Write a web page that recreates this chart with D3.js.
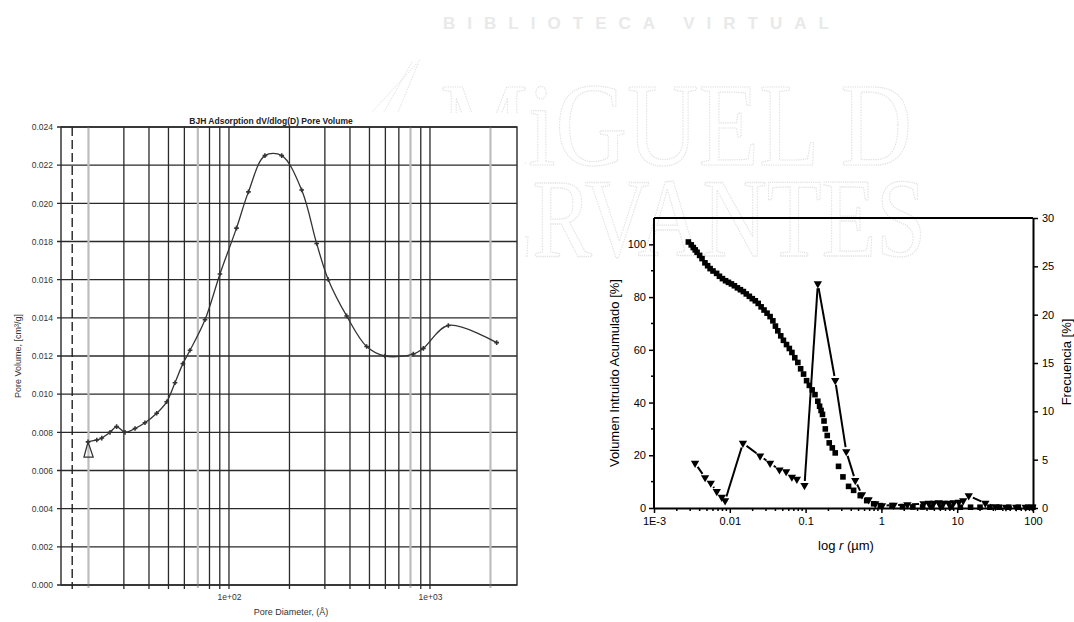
<!DOCTYPE html>
<html>
<head>
<meta charset="utf-8">
<script src="https://cdn.jsdelivr.net/npm/d3@7"></script>
<style>
  body { margin: 0; background: #fff; }
  svg { display: block; font-family: "Liberation Sans", Arial, sans-serif; }
</style>
</head>
<body>
<svg width="1074" height="622"></svg>
<script>
// ---- left chart: BJH adsorption dV/dlog(D) ----
const bjhStartD = [19.9, 19.0, 21.1, 19.9];
const bjhStartV = [0.0075, 0.0067, 0.0067, 0.0075];
const bjhD = [19.9, 22.0, 23.3, 25.6, 27.6, 30.4, 34.1, 38.2, 43.7, 49.0, 53.9, 59.0, 64.0, 76.0, 90.2,
  109, 125, 151, 183, 230, 273, 312, 385, 484, 597, 826, 927, 1234, 2147];
const bjhV = [0.0075, 0.0076, 0.0077, 0.0080, 0.0083, 0.0080, 0.0082, 0.0085, 0.0090, 0.0096, 0.0106,
  0.0116, 0.0123, 0.0139, 0.0163, 0.0187, 0.0206, 0.0225, 0.0225, 0.0207, 0.0179, 0.0160, 0.0141,
  0.0125, 0.0120, 0.0121, 0.0124, 0.0136, 0.0127];
const bjhYTicks = [0, 0.002, 0.004, 0.006, 0.008, 0.010, 0.012, 0.014, 0.016, 0.018, 0.020, 0.022, 0.024];
const bjhGridDark = [30, 40, 50, 60, 80, 90, 100, 200, 300, 400, 500, 600, 700, 900, 1000];
const bjhGridLight = [20, 70, 800, 2000];
const bjhXLabels = [100, 1000];
const bjhCutoff = 16.6;

// ---- right chart: mercury intrusion ----
const cumR = [0.00284, 0.0031, 0.0033, 0.0035, 0.0037, 0.0040, 0.0043, 0.0047, 0.0051, 0.0055, 0.0060,
  0.0067, 0.0073, 0.0080, 0.0088, 0.0096, 0.0105, 0.0115, 0.0126, 0.0138, 0.0151, 0.0165, 0.0181,
  0.0198, 0.0217, 0.0237, 0.0259, 0.0283, 0.031, 0.034, 0.037, 0.040, 0.043, 0.047, 0.051, 0.056,
  0.061, 0.066, 0.072, 0.079, 0.086, 0.094, 0.103, 0.112, 0.122, 0.133, 0.145, 0.153, 0.160, 0.167,
  0.175, 0.182, 0.193, 0.205, 0.225, 0.246, 0.272, 0.311, 0.369, 0.43, 0.526, 0.64, 0.79, 0.97, 1.38,
  1.9, 2.6, 3.5, 4.6, 6.2, 8.3, 11, 15, 20, 27, 36, 48, 64, 85, 100];
const cumPct = [100.9, 99.8, 98.8, 97.9, 97.0, 95.8, 94.6, 93.0, 91.9, 90.8, 89.9, 89.0, 87.9, 87.0,
  86.2, 85.6, 85.0, 84.3, 83.5, 82.8, 82.1, 81.2, 80.3, 79.4, 78.6, 77.6, 76.3, 75.1, 73.9, 72.6, 71.0,
  69.0, 67.2, 65.3, 63.6, 62.0, 60.5, 59.0, 57.0, 55.2, 52.8, 50.8, 48.3, 46.5, 44.8, 43.0, 40.5, 38.6,
  37.0, 35.5, 33.0, 30.0, 27.5, 24.7, 22.8, 20.9, 15.8, 11.8, 8.2, 6.7, 4.7, 2.8, 1.6, 0.9, 0.9,
  0.5, 0.4, 0.4, 0.4, 0.4, 0.4, 0.3, 0.3, 0.3, 0.3, 0.3, 0.3, 0.3, 0.3, 0.3];
const freqR = [0.00348, 0.00472, 0.00561, 0.00673, 0.00783, 0.00867, 0.0149, 0.0251, 0.0340, 0.0452,
  0.0554, 0.0659, 0.0767, 0.0967, 0.145, 0.246, 0.344, 0.452, 0.554, 0.678, 0.830, 1.02, 1.45, 2.2,
  3.6, 4.2, 4.9, 5.7, 6.6, 7.7, 9.0, 10.5, 12.0, 14.2, 23.5, 32, 44, 60, 80, 98];
const freqPct = [4.64, 3.15, 2.58, 1.71, 1.13, 0.75, 6.7, 5.39, 4.64, 3.95, 3.77, 3.2, 2.99, 2.33,
  23.2, 13.2, 5.84, 2.85, 1.37, 0.86, 0.44, 0.24, 0.3, 0.35, 0.45, 0.5, 0.5, 0.55, 0.5, 0.5, 0.55,
  0.6, 0.75, 1.27, 0.5, 0.15, 0.1, 0.1, 0.1, 0.1];
const hgXTicks = [0.001, 0.01, 0.1, 1, 10, 100];
const hgXLabels = ["1E-3", "0.01", "0.1", "1", "10", "100"];
const hgLeftTicks = [0, 20, 40, 60, 80, 100];
const hgLeftMinor = [10, 30, 50, 70, 90];
const hgRightTicks = [0, 5, 10, 15, 20, 25, 30];

const svg = d3.select("svg");
svg.append("rect").attr("width", 1074).attr("height", 622).attr("fill", "#fff");

// faint library watermark behind everything
svg.append("text").attr("x", 443).attr("y", 29).attr("textLength", 386)
  .attr("lengthAdjust", "spacing").attr("font-size", 17).attr("font-weight", "bold")
  .attr("fill", "#e9e9e9").text("BIBLIOTECA VIRTUAL");
const wm = svg.append("g").attr("fill", "none").attr("stroke", "#e2e2e2")
  .attr("stroke-width", 1).attr("stroke-dasharray", "1.5,1.2")
  .attr("font-family", "Liberation Serif");
wm.append("path").attr("d", "M420,60 L372,112 M412,62 L384,112 M418,64 L398,112");
// squeeze the big letters horizontally to the width they take in the scan
function fitText(txt, x, y, width) {
  const w = txt.node().getComputedTextLength();
  txt.attr("transform", `translate(${x},${y}) scale(${width / w},1)`)
    .attr("stroke-width", w / width);
}
fitText(wm.append("text").attr("font-size", 118).text("MiGUEL D"), 440, 165, 472);
fitText(wm.append("text").attr("font-size", 112).text("CERVANTES"), 418, 256, 508);

// ================= LEFT CHART =================
const L = { x0: 61, x1: 517, y0: 127, y1: 585 };
const gl = svg.append("g");
gl.append("rect").attr("x", 0).attr("y", 113).attr("width", 525).attr("height", 509).attr("fill", "#fff");

const xL = d3.scaleLog().domain([14.6, 2710]).range([L.x0, L.x1]);
const yL = d3.scaleLinear().domain([0, 0.024]).range([L.y1, L.y0]);

// horizontal grid
gl.append("g").selectAll("line").data(bjhYTicks).join("line")
  .attr("x1", L.x0 - 4).attr("x2", L.x1)
  .attr("y1", d => yL(d)).attr("y2", d => yL(d))
  .attr("stroke", "#2a2a2a").attr("stroke-width", 1.3);
// vertical grid
gl.append("g").selectAll("line").data(bjhGridLight).join("line")
  .attr("x1", d => xL(d)).attr("x2", d => xL(d))
  .attr("y1", L.y0).attr("y2", L.y1 + 3)
  .attr("stroke", "#bdbdbd").attr("stroke-width", 2.2);
gl.append("g").selectAll("line").data(bjhGridDark).join("line")
  .attr("x1", d => xL(d)).attr("x2", d => xL(d))
  .attr("y1", L.y0).attr("y2", L.y1 + 4)
  .attr("stroke", "#2a2a2a").attr("stroke-width", 1.3);
// frame
gl.append("rect").attr("x", L.x0).attr("y", L.y0)
  .attr("width", L.x1 - L.x0).attr("height", L.y1 - L.y0)
  .attr("fill", "none").attr("stroke", "#2a2a2a").attr("stroke-width", 1.4);
// cutoff dashed line
gl.append("line").attr("x1", xL(bjhCutoff)).attr("x2", xL(bjhCutoff))
  .attr("y1", L.y0).attr("y2", L.y1 + 4)
  .attr("stroke", "#222").attr("stroke-width", 1.4).attr("stroke-dasharray", "9,4");

// axes labels via d3.axis
const axLy = gl.append("g").attr("transform", `translate(${L.x0 - 5},0)`)
  .call(d3.axisLeft(yL).tickValues(bjhYTicks).tickSize(0).tickPadding(3).tickFormat(d3.format(".3f")));
axLy.select(".domain").remove();
axLy.selectAll("text").attr("font-size", 8.5).attr("fill", "#333");

const axLx = gl.append("g").attr("transform", `translate(0,${L.y1 + 4})`)
  .call(d3.axisBottom(xL).tickValues(bjhXLabels).tickSize(0).tickPadding(5)
    .tickFormat(d => "1e+0" + Math.round(Math.log10(d))));
axLx.select(".domain").remove();
axLx.selectAll("text").attr("font-size", 8.5).attr("fill", "#333");

gl.append("text").attr("x", 271).attr("y", 124).attr("text-anchor", "middle")
  .attr("font-size", 8.5).attr("font-weight", "bold").attr("fill", "#222")
  .text("BJH Adsorption dV/dlog(D) Pore Volume");
gl.append("text").attr("x", 291).attr("y", 615).attr("text-anchor", "middle")
  .attr("font-size", 9).attr("fill", "#333")
  .text("Pore Diameter, (Å)");
gl.append("text").attr("transform", "translate(21,356) rotate(-90)").attr("text-anchor", "middle")
  .attr("font-size", 9).attr("fill", "#333")
  .text("Pore Volume, [cm³/g]");

// curve
const lineL = d3.line().x(d => xL(d[0])).y(d => yL(d[1]));
gl.append("path").datum(d3.zip(bjhStartD, bjhStartV))
  .attr("d", lineL).attr("fill", "none").attr("stroke", "#333").attr("stroke-width", 1.3);
const bjhPts = d3.zip(bjhD, bjhV);
gl.append("path").datum(bjhPts)
  .attr("d", lineL.curve(d3.curveCatmullRom)).attr("fill", "none")
  .attr("stroke", "#333").attr("stroke-width", 1.3);
gl.append("g").selectAll("path").data(bjhPts).join("path")
  .attr("transform", d => `translate(${xL(d[0])},${yL(d[1])})`)
  .attr("d", d3.symbol(d3.symbolCross, 12))
  .attr("fill", "#333");

// ================= RIGHT CHART =================
const R = { x0: 654, x1: 1033, y0: 218, y1: 508 };
const gr = svg.append("g");
const xR = d3.scaleLog().domain([0.001, 100]).range([R.x0, R.x1]);
const yR = d3.scaleLinear().domain([0, 110]).range([R.y1, R.y0]);
const yF = d3.scaleLinear().domain([0, 30]).range([R.y1, R.y0]);

// cumulative intrusion squares
gr.append("g").selectAll("rect").data(d3.zip(cumR, cumPct)).join("rect")
  .attr("x", d => xR(d[0]) - 2.8).attr("y", d => yR(d[1]) - 2.8)
  .attr("width", 5.6).attr("height", 5.6).attr("fill", "#000");

// frequency: broken connecting lines + triangle markers
const fPts = d3.zip(freqR, freqPct).map(d => [xR(d[0]), yF(d[1])]);
const gap = 4.5;
const segs = [];
for (let i = 0; i < fPts.length - 1; i++) {
  const [ax, ay] = fPts[i], [bx, by] = fPts[i + 1];
  const len = Math.hypot(bx - ax, by - ay);
  if (len <= 2 * gap + 1) continue;
  const ux = (bx - ax) / len, uy = (by - ay) / len;
  segs.push([ax + ux * gap, ay + uy * gap, bx - ux * gap, by - uy * gap]);
}
gr.append("g").selectAll("line").data(segs).join("line")
  .attr("x1", d => d[0]).attr("y1", d => d[1]).attr("x2", d => d[2]).attr("y2", d => d[3])
  .attr("stroke", "#000").attr("stroke-width", 2);
gr.append("g").selectAll("path").data(fPts).join("path")
  .attr("transform", d => `translate(${d[0]},${d[1]}) rotate(180)`)
  .attr("d", d3.symbol(d3.symbolTriangle, 30)).attr("fill", "#000");

// frame + axes
gr.append("line").attr("x1", R.x0).attr("x2", R.x1).attr("y1", R.y0).attr("y2", R.y0)
  .attr("stroke", "#000").attr("stroke-width", 2);

function styleAxis(g) {
  g.select(".domain").attr("stroke-width", 2);
  g.selectAll(".tick line").attr("stroke-width", 1.5);
  g.selectAll("text").attr("font-size", 11).attr("fill", "#000")
    .attr("font-family", "Liberation Sans, Arial, sans-serif");
}
const axRl = gr.append("g").attr("transform", `translate(${R.x0},0)`)
  .call(d3.axisLeft(yR).tickValues(hgLeftTicks).tickSizeInner(5).tickSizeOuter(0).tickPadding(3));
styleAxis(axRl);
axRl.select(".domain").attr("d", `M0,${R.y1}V${R.y0}`);
gr.append("g").selectAll("line").data(hgLeftMinor).join("line")
  .attr("x1", R.x0 - 3).attr("x2", R.x0).attr("y1", d => yR(d)).attr("y2", d => yR(d))
  .attr("stroke", "#000").attr("stroke-width", 1.5);

const axRr = gr.append("g").attr("transform", `translate(${R.x1},0)`)
  .call(d3.axisRight(yF).tickValues(hgRightTicks).tickSizeInner(5).tickSizeOuter(0).tickPadding(4));
styleAxis(axRr);

const axRb = gr.append("g").attr("transform", `translate(0,${R.y1})`)
  .call(d3.axisBottom(xR).tickValues(hgXTicks).tickSizeInner(5).tickSizeOuter(0).tickPadding(4)
    .tickFormat((d, i) => hgXLabels[i]));
styleAxis(axRb);
const minorX = [];
hgXTicks.slice(0, -1).forEach(t => { for (let k = 2; k <= 9; k++) minorX.push(t * k); });
gr.append("g").selectAll("line").data(minorX).join("line")
  .attr("x1", d => xR(d)).attr("x2", d => xR(d)).attr("y1", R.y1).attr("y2", R.y1 + 3)
  .attr("stroke", "#000").attr("stroke-width", 1.5);

gr.append("text").attr("transform", "translate(619,373) rotate(-90)").attr("text-anchor", "middle")
  .attr("font-size", 13).text("Volumen Intruido Acumulado [%]");
gr.append("text").attr("transform", "translate(1071,362) rotate(-90)").attr("text-anchor", "middle")
  .attr("font-size", 13).text("Frecuencia [%]");
const xt = gr.append("text").attr("x", 846).attr("y", 550).attr("text-anchor", "middle").attr("font-size", 13);
xt.append("tspan").text("log ");
xt.append("tspan").attr("font-style", "italic").text("r");
xt.append("tspan").text(" (µm)");
</script>
</body>
</html>
